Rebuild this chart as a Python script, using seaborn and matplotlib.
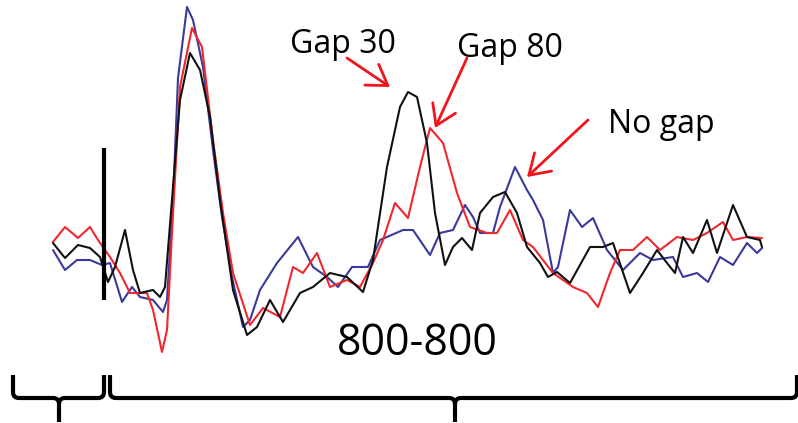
import numpy as np
import matplotlib
matplotlib.use("Agg")
import matplotlib.pyplot as plt
from matplotlib.path import Path
from matplotlib.patches import PathPatch
import seaborn as sns

# ERP-ish traces, time in ms (0 = onset), amplitude in uV
no_gap_t = [-102, -78, -54, -28, -4, 12, 36, 56, 72, 98, 118, 126, 138, 148, 166, 178, 198, 218,
            236, 256, 278, 292, 312, 346, 388, 418, 446, 468, 496, 528, 552, 598, 618, 652, 672,
            698, 722, 738, 752, 778, 792, 822, 846, 858, 878, 898, 908, 932, 956, 978, 1006,
            1038, 1072, 1098, 1138, 1158, 1186, 1208, 1232, 1258, 1286, 1306, 1316]
no_gap_v = [0, -1.0, -0.5, -0.5, -0.75, -0.65, -2.6, -1.85, -2.35, -2.5, -3.1, -2.5, 2.5, 8.6,
            12.15, 11.5, 9.15, 5.0, 1.65, -1.35, -3.85, -3.5, -2.0, -0.65, 0.65, -0.85, -1.35,
            -1.85, -0.85, -0.85, 0.5, 1.0, 1.0, -0.25, 0.85, 1.0, 2.25, 1.65, 0.85, 0.85, 2.15,
            4.15, 3.0, 2.5, 1.5, -1.15, -0.85, 2.0, 1.15, 1.6, 0, -1.0, -0.15, -0.5, -0.35,
            -1.35, -1.15, -1.6, -0.35, -0.75, 0.35, -0.15, 0.1]

gap80_t = [-102, -78, -52, -28, -12, 12, 32, 52, 86, 98, 116, 126, 136, 152, 176, 196, 218, 238,
           258, 292, 318, 352, 378, 398, 426, 452, 486, 512, 538, 558, 582, 608, 632, 652, 678,
           706, 732, 766, 786, 812, 838, 858, 898, 938, 966, 988, 1012, 1032, 1058, 1086, 1112,
           1146, 1178, 1206, 1238, 1258, 1286, 1316]
gap80_v = [0.4, 1.15, 0.6, 1.15, 0.5, -0.35, -1.15, -2.15, -2.15, -3.0, -5.1, -4.0, 0.85, 8.15,
           11.1, 10.15, 5.5, 1.85, -1.15, -3.75, -2.9, -3.35, -0.85, -1.15, -0.15, -1.85, -1.5,
           -1.85, -0.65, 0.5, 2.35, 1.6, 4.15, 6.1, 5.35, 2.85, 1.15, 0.85, 0.85, 2.0, 0.5, 0.15,
           -1.15, -1.85, -2.15, -2.85, -1.15, 0, 0, 0.65, 0, 0.65, 0.5, 0.85, 1.4, 0.5, 0.65, 0.6]

gap30_t = [-102, -78, -52, -28, -8, 8, 22, 42, 58, 72, 98, 112, 122, 138, 152, 172, 192, 212,
           232, 258, 286, 306, 332, 358, 392, 418, 452, 486, 518, 538, 566, 592, 608, 626, 646,
           662, 682, 698, 716, 736, 752, 778, 802, 826, 846, 872, 888, 906, 932, 972, 998, 1018,
           1052, 1078, 1106, 1126, 1142, 1158, 1178, 1206, 1226, 1258, 1286, 1312, 1316]
gap30_v = [0.35, -0.4, 0.25, 0.1, -0.35, -1.6, -0.85, 1.0, -1.0, -2.15, -2.0, -2.35, -1.85, 3.15,
           7.5, 9.85, 9.0, 6.65, 2.5, -2.0, -4.25, -3.85, -2.5, -3.6, -2.15, -1.85, -1.15, -1.35,
           -2.1, -0.5, 4.15, 7.15, 7.9, 7.65, 5.35, 1.85, -0.75, 0.15, 0.6, 0, 1.85, 2.65, 2.9,
           1.85, 0.15, -0.65, -1.35, -1.1, -1.65, 0.15, 0.15, 0.35, -2.15, -1.15, 0, -0.65,
           -1.15, 0.65, -0.15, 1.5, -0.15, 2.25, 0.65, 0.5, 0.15]

onset_ms = 0
condition_labels = ["No gap", "Gap 80", "Gap 30"]
condition_colors = ["#3a3a9e", "#f0272c", "#111111"]
window_label = "800-800"

sns.set_style("white")
plt.rcParams["font.family"] = ["Open Sans", "DejaVu Sans"]
plt.rcParams["text.color"] = "black"

fig = plt.figure(figsize=(7.98, 4.23), dpi=100)
ax = fig.add_axes([0, 0, 1, 1])

series = [(no_gap_t, no_gap_v), (gap80_t, gap80_v), (gap30_t, gap30_v)]
for (t, v), c in zip(series, condition_colors):
    sns.lineplot(x=t, y=v, color=c, lw=1.5, ax=ax, sort=False, estimator=None)

# onset marker
ax.vlines(onset_ms, -2.5, 5.1, color="black", lw=3)

# labels + arrows
ax.text(372, 9.85, condition_labels[2], fontsize=23, ha="left", va="baseline", color="black")
ax.text(706, 9.65, condition_labels[1], fontsize=23, ha="left", va="baseline", color="black")
ax.text(1008, 5.85, condition_labels[0], fontsize=23, ha="left", va="baseline", color="black")
ax.text(466, -5.25, window_label, fontsize=31, ha="left", va="baseline", color="black")

arrow_kw = dict(arrowstyle="->,head_length=0.7,head_width=0.45", color="#f0141c", lw=2,
                shrinkA=0, shrinkB=0, mutation_scale=20)
ax.annotate("", xy=(572, 8.15), xytext=(486, 9.6), arrowprops=arrow_kw)
ax.annotate("", xy=(662, 6.1), xytext=(726, 9.6), arrowprops=arrow_kw)
ax.annotate("", xy=(846, 3.65), xytext=(968, 6.5), arrowprops=arrow_kw)


# curly braces under the traces
def brace(x0, x1, xm, top=-6.25, mid=-7.4, bot=-8.6, r=12, rv=0.3):
    verts = [(x0, top), (x0, mid + rv), (x0, mid), (x0 + r, mid),
             (xm - r, mid), (xm, mid), (xm, mid - rv), (xm, bot),
             (xm, mid - rv), (xm, mid), (xm + r, mid),
             (x1 - r, mid), (x1, mid), (x1, mid + rv), (x1, top)]
    codes = [Path.MOVETO, Path.LINETO, Path.CURVE3, Path.CURVE3,
             Path.LINETO, Path.CURVE3, Path.CURVE3, Path.LINETO,
             Path.MOVETO, Path.CURVE3, Path.CURVE3,
             Path.LINETO, Path.CURVE3, Path.CURVE3, Path.LINETO]
    ax.add_patch(PathPatch(Path(verts, codes), fill=False, lw=3, color="black",
                           capstyle="butt", joinstyle="round"))


brace(-182, 0, -90)
brace(12, 1386, 702)

ax.set_xlim(-208, 1388)
ax.set_ylim(-8.65, 12.5)
ax.axis("off")

fig.savefig("out.png", dpi=100)
